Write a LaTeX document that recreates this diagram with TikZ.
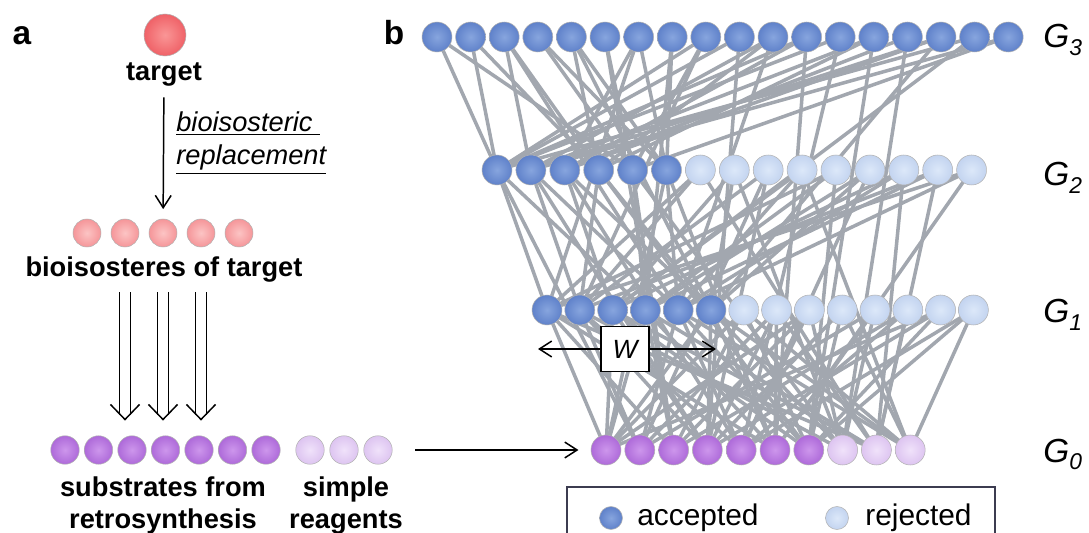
\documentclass[tikz,border=0pt]{standalone}
\usepackage{fontspec}
\setmainfont{Liberation Sans}
\usepackage{xcolor}
\usepackage{tikz}
\usetikzlibrary{arrows.meta,backgrounds}

% ball colours (centre / rim)
\definecolor{redin}{RGB}{250,150,150}
\definecolor{redout}{RGB}{232,62,72}
\definecolor{pinkin}{RGB}{252,196,196}
\definecolor{pinkout}{RGB}{240,118,124}
\definecolor{purpin}{RGB}{205,150,236}
\definecolor{purpout}{RGB}{152,76,204}
\definecolor{lpurpin}{RGB}{240,226,250}
\definecolor{lpurpout}{RGB}{208,176,234}
\definecolor{bluein}{RGB}{135,165,222}
\definecolor{blueout}{RGB}{68,105,188}
\definecolor{lbluein}{RGB}{220,232,249}
\definecolor{lblueout}{RGB}{178,198,233}
\definecolor{edgegray}{RGB}{162,167,175}
\definecolor{legendline}{RGB}{60,60,80}

\pgfdeclareradialshading{redball}{\pgfpoint{0bp}{0bp}}{color(0bp)=(redin); color(42bp)=(redout); color(50bp)=(redout!85!black)}
\pgfdeclareradialshading{pinkball}{\pgfpoint{0bp}{0bp}}{color(0bp)=(pinkin); color(42bp)=(pinkout); color(50bp)=(pinkout!90!black)}
\pgfdeclareradialshading{purpball}{\pgfpoint{0bp}{0bp}}{color(0bp)=(purpin); color(42bp)=(purpout); color(50bp)=(purpout!85!black)}
\pgfdeclareradialshading{lpurpball}{\pgfpoint{0bp}{0bp}}{color(0bp)=(lpurpin); color(42bp)=(lpurpout); color(50bp)=(lpurpout!92!black)}
\pgfdeclareradialshading{blueball}{\pgfpoint{0bp}{0bp}}{color(0bp)=(bluein); color(42bp)=(blueout); color(50bp)=(blueout!85!black)}
\pgfdeclareradialshading{lblueball}{\pgfpoint{0bp}{0bp}}{color(0bp)=(lbluein); color(42bp)=(lblueout); color(50bp)=(lblueout!92!black)}

\newcommand{\panelfont}{\bfseries\fontsize{19}{19}\selectfont}
\newcommand{\boldlbl}{\bfseries\fontsize{15.5}{18}\selectfont}
\newcommand{\itlbl}{\itshape\fontsize{15.5}{18}\selectfont}
\newcommand{\glbl}{\itshape\fontsize{19}{19}\selectfont}
\newcommand{\gsub}[1]{\raisebox{-4.5pt}{\fontsize{13}{13}\selectfont #1}}

\tikzset{
  orb/.style={circle, inner sep=0pt, minimum size=#1, draw=black!30, line width=0.3pt, shade},
  link/.style={draw=edgegray, line width=2pt},
  arr/.style={-{Straight Barb[length=7pt,width=9pt]}, line width=0.85pt},
  dblline/.style={double, double distance=5.2pt, line width=0.85pt},
}

\begin{document}
\begin{tikzpicture}[x=0.02cm, y=-0.02cm]
    \useasboundingbox (0,0) rectangle (1089,533);
    \clip (0,0) rectangle (1089,533);

    % Panel a
    \node[anchor=base, font=\panelfont] (pa) at (22,45) {a};
    \node[orb=0.84cm, shading=redball] (tgt) at (165,35) {};
    \node[anchor=base, font=\boldlbl] (tgtlbl) at (164,81) {target};
    \foreach \i in {1,...,5}
        \node[orb=0.56cm, shading=pinkball] (b-\i) at ({87+38*(\i-1)},233) {};
    \node[anchor=base, font=\boldlbl] (blbl) at (164,277) {bioisosteres of target};
    \draw[arr, shorten <=2.5pt, shorten >=5.5pt] (tgtlbl) -- (b-3);
    \node[anchor=base west, font=\itlbl, inner sep=0pt] (rep1) at (176,132) {\underline{bioisosteric\ }};
    \node[anchor=base west, font=\itlbl, inner sep=0pt] (rep2) at (176,165) {\underline{replacement}};

    % Substrates and reagents
    \foreach \i in {1,...,7}
        \node[orb=0.57cm, shading=purpball] (s-\i) at ({65+33.5*(\i-1)},450) {};
    \foreach \i in {1,2,3}
        \node[orb=0.57cm, shading=lpurpball] (r-\i) at ({310+34*(\i-1)},450) {};
    \foreach \i in {2,3,4} {
        \path (b-\i |- s-1.north) ++(0,-16) coordinate (tip-\i);
        \draw[dblline, shorten <=1.8pt, shorten >=2.8pt] (b-\i |- blbl.south) -- (tip-\i);
        \draw[line width=0.85pt] ([shift={(-14.5,-15)}]tip-\i) -- (tip-\i) -- ([shift={(14.5,-15)}]tip-\i);
    }
    \node[anchor=base, font=\boldlbl] (slbl1) at (163,497) {substrates from};
    \node[anchor=base, font=\boldlbl] (slbl2) at (163,528) {retrosynthesis};
    \node[anchor=base, font=\boldlbl] (rlbl1) at (346,497) {simple};
    \node[anchor=base, font=\boldlbl] (rlbl2) at (346,528) {reagents};

    % Panel b: generations
    \node[anchor=base, font=\panelfont] (pb) at (394,45) {b};
    \foreach \i in {1,...,18}
        \node[orb=0.6cm, shading=blueball] (g3-\i) at ({437+33.6*(\i-1)},37) {};
    \foreach \i in {1,...,6}
        \node[orb=0.6cm, shading=blueball] (g2-\i) at ({497+33.9*(\i-1)},170) {};
    \foreach \i in {7,...,15}
        \node[orb=0.6cm, shading=lblueball] (g2-\i) at ({497+33.9*(\i-1)},170) {};
    \foreach \i in {1,...,6}
        \node[orb=0.6cm, shading=blueball] (g1-\i) at ({547+32.8*(\i-1)},310) {};
    \foreach \i in {7,...,14}
        \node[orb=0.6cm, shading=lblueball] (g1-\i) at ({547+32.8*(\i-1)},310) {};
    \foreach \i in {1,...,7}
        \node[orb=0.6cm, shading=purpball] (g0-\i) at ({606+33.8*(\i-1)},450) {};
    \foreach \i in {8,9,10}
        \node[orb=0.6cm, shading=lpurpball] (g0-\i) at ({606+33.8*(\i-1)},450) {};

    \node[anchor=base west, font=\glbl, inner sep=0pt] (lg3) at (1043,48) {G\gsub{3}};
    \node[anchor=base west, font=\glbl, inner sep=0pt] (lg2) at (1043,186) {G\gsub{2}};
    \node[anchor=base west, font=\glbl, inner sep=0pt] (lg1) at (1043,323) {G\gsub{1}};
    \node[anchor=base west, font=\glbl, inner sep=0pt] (lg0) at (1043,462) {G\gsub{0}};

    \draw[arr, shorten <=13pt, shorten >=7pt] (r-3) -- (g0-1);

    % Links between generations
    \begin{scope}[on background layer]
        \foreach \a/\b in {1/g2-1, 1/g2-5, 2/g2-1, 2/g2-4, 3/g2-4, 3/g1-5, 3/g2-2, 4/g2-5, 4/g2-6,
                           5/g2-4, 5/g1-6, 5/g2-6, 6/g2-5, 6/g0-3, 7/g2-3, 7/g2-6, 7/g1-1, 8/g2-6, 8/g1-4,
                           9/g2-1, 9/g2-5, 9/g1-2, 10/g2-1, 10/g0-4, 11/g2-2, 11/g1-5, 11/g2-4,
                           12/g2-3, 12/g0-6, 12/g2-1, 13/g2-1, 13/g0-5, 14/g2-2, 14/g2-4, 14/g0-7,
                           15/g2-3, 15/g0-8, 16/g2-2, 16/g1-6, 16/g2-3, 17/g2-1, 17/g1-3, 18/g2-2, 18/g2-5}
            \draw[link] (g3-\a.center) -- (\b.center);
        \foreach \a/\b in {1/g1-1, 1/g1-4, 1/g0-2, 2/g1-2, 2/g0-4, 2/g1-5, 3/g1-3, 3/g1-6, 3/g0-5,
                           4/g1-2, 4/g0-7, 4/g1-6, 5/g1-4, 5/g0-3, 5/g0-8, 6/g1-5, 6/g0-6, 6/g0-1,
                           7/g1-1, 7/g0-9, 7/g1-2, 8/g1-3, 8/g1-6, 8/g0-8, 9/g1-2, 9/g0-4, 9/g0-2,
                           10/g1-5, 10/g0-10, 10/g1-3, 11/g1-1, 11/g0-7, 11/g1-4, 12/g1-4, 12/g0-5, 12/g1-6,
                           13/g1-3, 13/g0-9, 13/g1-5, 14/g1-2, 14/g0-9, 14/g1-4, 15/g1-1, 15/g1-5, 15/g0-6}
            \draw[link] (g2-\a.center) -- (\b.center);
        \foreach \a/\b in {1/1, 1/3, 1/6, 1/9, 2/2, 2/5, 2/8, 2/4, 3/1, 3/4, 3/7, 3/9,
                           4/3, 4/6, 4/9, 4/1, 5/2, 5/5, 5/10, 5/7, 6/1, 6/4, 6/8, 6/10, 6/6,
                           7/3, 7/7, 7/10, 7/1, 8/2, 8/6, 8/9, 8/4, 9/1, 9/5, 9/8, 9/3,
                           10/4, 10/7, 10/10, 11/2, 11/6, 11/8, 12/3, 12/9, 12/5,
                           13/1, 13/7, 13/4, 14/5, 14/10, 14/7}
            \draw[link] (g1-\a.center) -- (g0-\b.center);
    \end{scope}

    % Window W
    \coordinate (wl) at (538,349);
    \coordinate (wr) at (716,349);
    \draw[arr] (625,349) -- (wl);
    \draw[arr] (625,349) -- (wr);
    \node[draw, fill=white, line width=0.85pt, minimum width=27.5pt, minimum height=25.5pt,
          inner sep=0pt, font=\itshape\fontsize{15}{15}\selectfont] (w) at (625,349) {W};

    % Legend
    \draw[draw=legendline, line width=0.8pt, fill=white] (567,487) rectangle (995,560);
    \node[orb=0.46cm, shading=blueball] (acc) at (611,518) {};
    \node[anchor=base west, inner sep=0pt, font=\fontsize{17}{17}\selectfont] (acctxt) at (637,525) {accepted};
    \node[orb=0.46cm, shading=lblueball] (rej) at (837,518) {};
    \node[anchor=base west, inner sep=0pt, font=\fontsize{17}{17}\selectfont] (rejtxt) at (865,525) {rejected};
\end{tikzpicture}
\end{document}
